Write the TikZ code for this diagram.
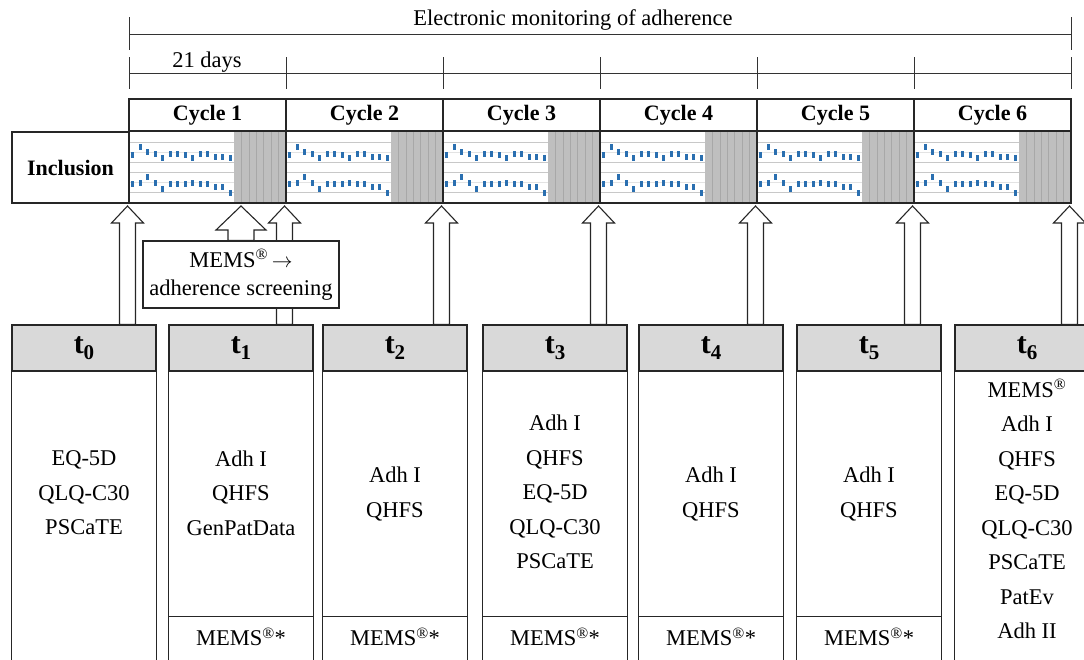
\documentclass[tikz,border=0pt]{standalone}
\usepackage{fontspec}
\setmainfont{Liberation Serif}
\usetikzlibrary{calc}

\definecolor{headgray}{HTML}{D9D9D9}
\definecolor{stripgray}{HTML}{BFBFBF}
\definecolor{daygray}{HTML}{A8A8A8}
\definecolor{gridgray}{HTML}{C8C8C8}
\definecolor{dotblue}{HTML}{2A6FB0}

% daily intake marks of one cycle (upper and lower row)
\newcommand\dotsupper{155,147,152,154,158,154,154,155,158,154,154,157,157,158}
\newcommand\dotslower{184,183,177,183,189,184,184,184,183,184,184,187,187,193}

% hollow upward arrow: #1 foot, #2 tip, #3 half head, #4 half shaft, #5 head length
\newcommand\hollowarrow[5]{%
  \draw[hollow] (#2) -- ($(#2)+(#3,#5)$) -- ($(#2)+(#4,#5)$) -- ($(#1)+(#4,0)$)
    -- ($(#1)+(-#4,0)$) -- ($(#2)+(-#4,#5)$) -- ($(#2)+(-#3,#5)$) -- cycle;}

\begin{document}
\begin{tikzpicture}[x=1pt,y=-1pt,
    frame/.style={draw=black!85,line width=1.1pt},
    rule/.style={draw=black!80,line width=0.9pt},
    hollow/.style={draw=black!85,line width=1.1pt,fill=white},
    txt/.style={font=\fontsize{22.5}{34.5}\selectfont,align=center,inner sep=0pt},
    cyclebox/.style={frame,inner sep=0pt,minimum width=157pt,minimum height=32pt,
      font=\bfseries\fontsize{22}{26}\selectfont},
    thead/.style={frame,fill=headgray,minimum width=144pt,minimum height=46pt,
      inner sep=0pt,font=\bfseries\fontsize{30}{30}\selectfont},
    gridline/.style={draw=gridgray,line width=0.9pt}]
  \useasboundingbox (0,0) rectangle (1084,659);
  \clip (0,0) rectangle (1084,659);

  % time lines
  \node[txt] (elec) at (573,20) {Electronic monitoring of adherence};
  \draw[rule] (129,17) -- (129,50) (129,34) -- (1071,34) (1071,17) -- (1071,50);
  \draw[rule] (129,73) -- (1071,73);
  \foreach \k in {0,...,6}
    \draw[rule] ({129+157*\k},57) -- ({129+157*\k},89);
  \node[txt] (days) at (207,62) {21 days};

  % cycles
  \foreach \i in {1,...,6}
    \node[cyclebox] (cyc\i) at ({50.5+157*\i},115) {Cycle \i};
  \foreach \i in {1,...,6} {
    \pgfmathsetmacro\xa{129+157*(\i-1)}
    \fill[stripgray] (\xa+105,131) rectangle (\xa+157,203);
    \foreach \d in {1,...,6}
      \draw[daygray,line width=0.6pt] (\xa+105+\d*7.43,131) -- (\xa+105+\d*7.43,203);
    \foreach \yy in {142,162,172,192}
      \draw[gridline] (\xa,\yy) -- (\xa+105,\yy);
    \foreach \yy in {152,182}
      \draw[gridline,draw opacity=.5] (\xa,\yy) -- (\xa+105,\yy);
    \foreach \yy [count=\k from 0] in \dotsupper
      \fill[dotblue] (\xa+2.4+7.5*\k,\yy-2.6) rectangle ++(2.6,5.2);
    \foreach \yy [count=\k from 0] in \dotslower
      \fill[dotblue] (\xa+2.4+7.5*\k,\yy-2.6) rectangle ++(2.6,5.2);
  }
  \draw[frame] (129,131) rectangle (1071,203);
  \foreach \k in {1,...,5}
    \draw[frame] ({129+157*\k},131) -- ({129+157*\k},203);
  \node[frame,inner sep=0pt,minimum width=117pt,minimum height=71pt,
    font=\bfseries\fontsize{22}{26}\selectfont] (incl) at (70.5,167.5) {Inclusion};

  % time points
  \foreach \l/\n in {12/0,169/1,323/2,483/3,639/4,797/5,955/6} {
    \node[thead] (t\n) at (\l+72,348)
      {t\raisebox{-6pt}{\fontsize{21}{21}\selectfont\n}};
    \draw[frame] (t\n.south west) -- ++(0,300) (t\n.south east) -- ++(0,300);
  }
  \foreach \n in {1,...,5} {
    \draw[frame] ($(t\n.south west)+(0,245)$) -- ($(t\n.south east)+(0,245)$);
    \path (t\n) ++(0,289) node[txt] (m\n) {MEMS\textsuperscript{®}*};
  }

  % arrows
  \foreach \n in {0,...,6} {
    \coordinate (a\n) at ({127.5+157*\n},206);
    \coordinate (f\n) at (t\n.north -| a\n);
    \hollowarrow{f\n}{a\n}{16}{8}{17}
  }
  \coordinate (ma) at (241,206);
  \node[frame,fill=white,inner sep=0pt,minimum width=196pt,minimum height=67pt,
    txt,font=\fontsize{22.5}{28}\selectfont] (mems) at (241,274.5)
    {MEMS\textsuperscript{®}\,$\rightarrow$\\adherence screening};
  \coordinate (mf) at (mems.north -| ma);
  \hollowarrow{mf}{ma}{25}{13}{24}

  % assessments
  \node[txt] (c0) at (84,493) {EQ-5D\\QLQ-C30\\PSCaTE};
  \node[txt] (c1) at (241,493) {Adh I\\QHFS\\GenPatData};
  \node[txt] (c2) at (395,494) {Adh I\\QHFS};
  \node[txt] (c3) at (555,492) {Adh I\\QHFS\\EQ-5D\\QLQ-C30\\PSCaTE};
  \node[txt] (c4) at (711,494) {Adh I\\QHFS};
  \node[txt] (c5) at (869,494) {Adh I\\QHFS};
  \node[txt] (c6) at (1027,509)
    {MEMS\textsuperscript{®}\\Adh I\\QHFS\\EQ-5D\\QLQ-C30\\PSCaTE\\PatEv\\Adh II};
\end{tikzpicture}
\end{document}
